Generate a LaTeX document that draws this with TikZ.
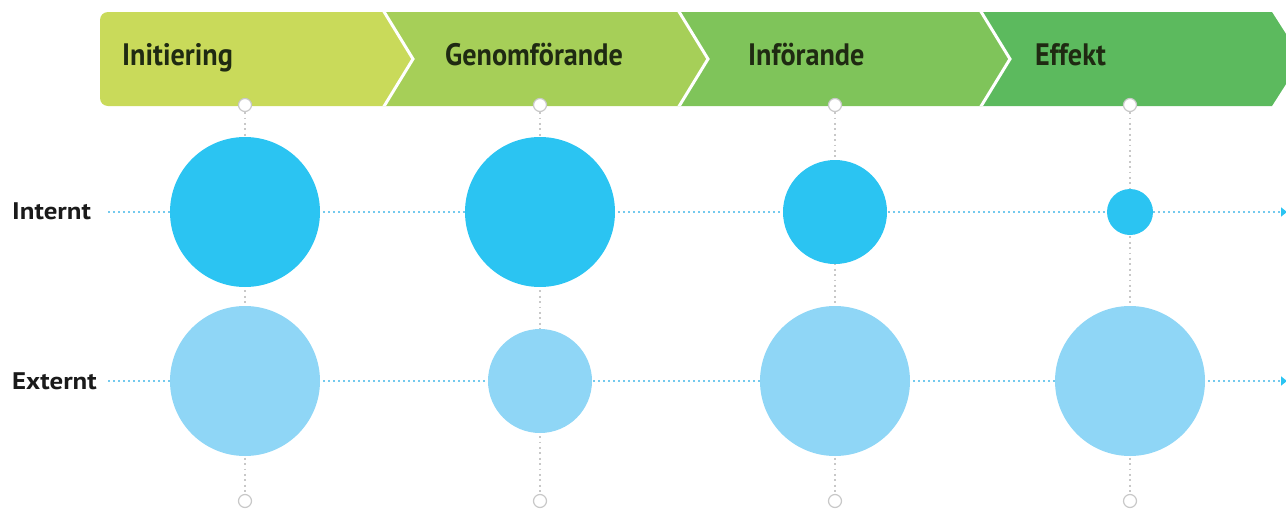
\documentclass[tikz,border=0pt]{standalone}
\usepackage{fontspec}
\setmainfont{PT Sans}
\usetikzlibrary{arrows.meta}
\definecolor{segA}{HTML}{C9DA5A}
\definecolor{segB}{HTML}{A6CF58}
\definecolor{segC}{HTML}{7FC45A}
\definecolor{segD}{HTML}{5CBA5E}
\definecolor{intc}{HTML}{2BC4F2}
\definecolor{extc}{HTML}{8FD6F6}
\definecolor{hline}{HTML}{74CAEE}
\definecolor{vline}{HTML}{C8C8C8}
\definecolor{bantext}{HTML}{1F2A12}
\definecolor{labtext}{HTML}{1A1A1A}
\newcommand{\bantxt}[1]{\scalebox{0.91}[1]{#1}}
\newcommand{\labtxt}[1]{\scalebox{1.12}[1]{#1}}
\tikzset{
  bant/.style={font=\fontsize{31}{31}\selectfont\bfseries, text=bantext, anchor=base west, inner sep=0pt},
  lab/.style={font=\fontsize{24}{24}\selectfont\bfseries, text=labtext, anchor=base west, inner sep=0pt},
  smallc/.style={circle, draw=vline, line width=1.2pt, fill=white, minimum size=13pt, inner sep=0pt},
  vdot/.style={draw=vline, line width=1.8pt, dash pattern=on 1.8pt off 3.6pt},
  hdot/.style={draw=hline, line width=1.8pt, dash pattern=on 1.8pt off 3.2pt},
  bigc/.style={circle, minimum size=#1, inner sep=0pt},
  sep/.style={draw=white, line width=3pt, line join=miter}
}
\begin{document}
\begin{tikzpicture}[x=1pt,y=-1pt]
\useasboundingbox (0,0) rectangle (1286,509);
\clip (0,0) rectangle (1286,509);
% banner
\begin{scope}
\clip[rounded corners=8pt] (100,12) rectangle (1400,106);
\fill[segA] (90,12) -- (383,12) -- (413,59) -- (383,106) -- (90,106) -- cycle;
\fill[segB] (383,12) -- (678,12) -- (708,59) -- (678,106) -- (383,106) -- (413,59) -- cycle;
\fill[segC] (678,12) -- (980,12) -- (1010,59) -- (980,106) -- (678,106) -- (708,59) -- cycle;
\fill[segD] (980,12) -- (1272,12) -- (1302,59) -- (1272,106) -- (980,106) -- (1010,59) -- cycle;
\draw[sep] (383,10) -- (413,59) -- (383,108);
\draw[sep] (678,10) -- (708,59) -- (678,108);
\draw[sep] (980,10) -- (1010,59) -- (980,108);
\end{scope}
\node[bant] (s1) at (122,65) {\bantxt{Initiering}};
\node[bant] (s2) at (445,65) {\bantxt{Genomförande}};
\node[bant] (s3) at (748,65) {\bantxt{Införande}};
\node[bant] (s4) at (1035,65) {\bantxt{Effekt}};
% row labels
\node[lab] (lint) at (12,219) {\labtxt{Internt}};
\node[lab] (lext) at (12,389) {\labtxt{Externt}};
% small circles
\foreach \i/\x in {1/245,2/540,3/835,4/1130}{
  \node[smallc] (t\i) at (\x,105) {};
  \node[smallc] (b\i) at (\x,501) {};
  \draw[vdot] (t\i) -- (b\i);
}
% horizontal lines
\coordinate (hs1) at (108,212);
\coordinate (he1) at (1287,212);
\coordinate (hs2) at (108,381);
\coordinate (he2) at (1287,381);
\draw[hdot, -{Triangle[length=6pt,width=9pt,fill=intc,color=intc]}] (hs1) -- (he1);
\draw[hdot, -{Triangle[length=6pt,width=9pt,fill=intc,color=intc]}] (hs2) -- (he2);
% big circles
\node[bigc=150pt, fill=intc] (i1) at (245,212) {};
\node[bigc=150pt, fill=intc] (i2) at (540,212) {};
\node[bigc=104pt, fill=intc] (i3) at (835,212) {};
\node[bigc=46pt, fill=intc] (i4) at (1130,212) {};
\node[bigc=150pt, fill=extc] (e1) at (245,381) {};
\node[bigc=104pt, fill=extc] (e2) at (540,381) {};
\node[bigc=150pt, fill=extc] (e3) at (835,381) {};
\node[bigc=150pt, fill=extc] (e4) at (1130,381) {};
\end{tikzpicture}
\end{document}
